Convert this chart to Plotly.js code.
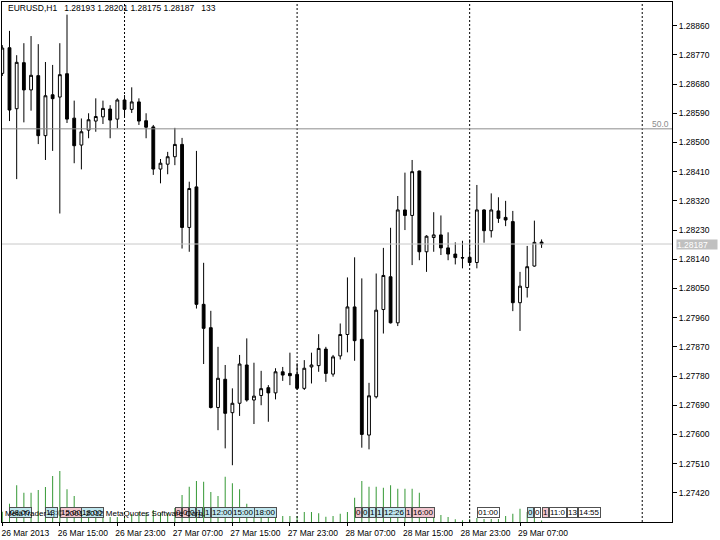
<!DOCTYPE html>
<html><head><meta charset="utf-8">
<script src="https://cdn.plot.ly/plotly-3.0.1.min.js"></script>
<style>html,body{margin:0;padding:0;background:#fff}#chart{width:720px;height:540px}</style>
</head><body><div id="chart"></div>
<script>
const FONT = 'Liberation Sans, Arial, sans-serif';
const headerText = 'EURUSD,H1\u00a0\u00a0\u00a01.28193 1.28201 1.28175 1.28187\u00a0\u00a0\u00a0133';
const copyrightText = 'MetaTrader 4, \u00a9 2001-2012 MetaQuotes Software Corp.';
const firstBar = Date.UTC(2013, 2, 26, 7, 0, 0);

const openP = [1.28713,1.28792,1.28604,1.28746,1.28662,1.28706,1.28521,1.28647,1.28640,1.28712,
1.28575,1.28492,1.28538,1.28566,1.28579,1.28603,1.28572,1.28631,1.28602,1.28625,
1.28567,1.28548,1.28418,1.28433,1.28456,1.28494,1.28238,1.28363,1.28001,1.27929,
1.27683,1.27770,1.27667,1.27696,1.27814,1.27706,1.27720,1.27744,1.27728,1.27793,
1.27788,1.27785,1.27742,1.27808,1.27812,1.27863,1.27786,1.27842,1.27908,1.27993,
1.27893,1.27598,1.27716,1.27985,1.28086,1.27944,1.28292,1.28275,1.28412,1.28163,
1.28207,1.28215,1.28175,1.28156,1.28145,1.28146,1.28130,1.28292,1.28228,1.28289,
1.28269,1.28256,1.28006,1.28053,1.28119,1.28193];
const highP = [1.28800,1.28844,1.28769,1.28806,1.28828,1.28803,1.28748,1.28739,1.28806,1.28894,
1.28629,1.28574,1.28590,1.28636,1.28629,1.28615,1.28636,1.28646,1.28670,1.28636,
1.28590,1.28554,1.28449,1.28471,1.28545,1.28514,1.28379,1.28474,1.28129,1.27981,
1.27870,1.27814,1.27742,1.27845,1.27896,1.27821,1.27796,1.27752,1.27804,1.27808,
1.27852,1.27819,1.27829,1.27852,1.27909,1.27870,1.27845,1.27942,1.28084,1.28146,
1.28081,1.27759,1.28096,1.28175,1.28237,1.28335,1.28407,1.28446,1.28413,1.28214,
1.28285,1.28275,1.28223,1.28192,1.28197,1.28201,1.28369,1.28294,1.28343,1.28331,
1.28320,1.28289,1.28101,1.28181,1.28259,1.28201];
const lowP = [1.28705,1.28566,1.28387,1.28562,1.28598,1.28495,1.28446,1.28474,1.28281,1.28560,
1.28436,1.28417,1.28513,1.28533,1.28557,1.28513,1.28544,1.28579,1.28591,1.28554,
1.28513,1.28400,1.28374,1.28402,1.28430,1.28173,1.28163,1.27988,1.27817,1.27680,
1.27613,1.27557,1.27505,1.27657,1.27701,1.27632,1.27690,1.27639,1.27708,1.27765,
1.27752,1.27737,1.27737,1.27757,1.27793,1.27762,1.27778,1.27831,1.27853,1.27827,
1.27559,1.27554,1.27711,1.27911,1.27942,1.27934,1.28230,1.28122,1.28137,1.28101,
1.28163,1.28153,1.28137,1.28124,1.28112,1.28122,1.28112,1.28191,1.28207,1.28252,
1.28242,1.27980,1.27919,1.28022,1.28117,1.28175];
const closeP = [1.28791,1.28600,1.28747,1.28662,1.28707,1.28521,1.28644,1.28635,1.28709,1.28572,
1.28490,1.28533,1.28570,1.28580,1.28605,1.28569,1.28631,1.28602,1.28625,1.28566,
1.28547,1.28418,1.28436,1.28456,1.28494,1.28238,1.28358,1.28001,1.27927,1.27683,
1.27773,1.27665,1.27696,1.27817,1.27706,1.27718,1.27741,1.27728,1.27793,1.27783,
1.27781,1.27742,1.27804,1.27814,1.27865,1.27788,1.27839,1.27908,1.27993,1.27889,
1.27600,1.27719,1.27983,1.28090,1.27944,1.28292,1.28275,1.28410,1.28163,1.28211,
1.28215,1.28175,1.28156,1.28145,1.28144,1.28130,1.28292,1.28228,1.28292,1.28266,
1.28261,1.28006,1.28057,1.28117,1.28192,1.28187];
const volume = [900,1610,3230,2580,2580,2820,3080,4050,4490,2880,
2290,1300,1050,880,620,440,440,530,700,880,
790,1050,790,790,1230,2380,3110,3610,3550,2640,
2290,3990,3410,2880,1610,1230,1060,880,700,530,
530,530,880,880,770,470,530,730,880,2140,
3610,3110,3110,3020,3230,2930,2930,2930,2580,1230,
790,620,440,240,150,260,350,260,260,260,
530,730,1170,880,700,133];

const yTicks = [1.27420,1.27510,1.27600,1.27690,1.27780,1.27870,1.27960,1.28050,1.28140,
1.28230,1.28320,1.28410,1.28500,1.28590,1.28680,1.28770,1.28860];
const xTickTimes = ['2013-03-26 07:00','2013-03-26 15:00','2013-03-26 23:00','2013-03-27 07:00',
'2013-03-27 15:00','2013-03-27 23:00','2013-03-28 07:00','2013-03-28 15:00','2013-03-28 23:00','2013-03-29 07:00'];
const xTickLabels = ['26 Mar 2013','26 Mar 15:00','26 Mar 23:00','27 Mar 07:00','27 Mar 15:00',
'27 Mar 23:00','28 Mar 07:00','28 Mar 15:00','28 Mar 23:00','29 Mar 07:00'];
const separators = ['2013-03-27 00:00','2013-03-28 00:00','2013-03-29 00:00','2013-03-30 00:00'];
const levelValue = 1.28542, levelLabel = '50.0';
const bidPrice = 1.28187;

const eventTimes = ['2013-03-26 08:00','2013-03-26 13:00','2013-03-26 15:00','2013-03-26 18:00',
'2013-03-27 07:00','2013-03-27 08:00','2013-03-27 09:00','2013-03-27 10:00','2013-03-27 11:00',
'2013-03-27 12:00','2013-03-27 15:00','2013-03-27 18:00',
'2013-03-28 08:00','2013-03-28 09:00','2013-03-28 10:00','2013-03-28 11:00','2013-03-28 12:00',
'2013-03-28 15:00','2013-03-28 16:00',
'2013-03-29 01:00','2013-03-29 08:00','2013-03-29 09:00','2013-03-29 10:00','2013-03-29 11:00',
'2013-03-29 13:35','2013-03-29 15:00'];
const eventTexts = ['08:00','13:','15:00','18:00','0','0','0','1','1','12:00','15:00','18:00',
'0','0','1','1','12:26','1','16:00','01:00','0','0','1','11:0','13','14:55'];
const eventKinds = ['c','c','p','c','p','p','c','c','c','c','c','c',
'p','c','c','c','c','p','p','w','c','w','p','w','w','w'];
const kindColor = {c:'#bfe6ee', p:'#f2c6ce', w:'#ffffff'};

function pad(n){return (n<10?'0':'')+n;}
const times = openP.map((_, i) => {
  const d = new Date(firstBar + i*3600000);
  return d.getUTCFullYear()+'-'+pad(d.getUTCMonth()+1)+'-'+pad(d.getUTCDate())+' '+pad(d.getUTCHours())+':00';
});

const traces = [
  {type:'bar', x:times, y:volume, yaxis:'y2', width:520000,
   marker:{color:'#3c9c3c', line:{width:0}}, hoverinfo:'skip', showlegend:false},
  {type:'candlestick', x:times, open:openP, high:highP, low:lowP, close:closeP,
   increasing:{line:{color:'#000000', width:1}, fillcolor:'#ffffff'},
   decreasing:{line:{color:'#000000', width:1}, fillcolor:'#000000'},
   whiskerwidth:0, hoverinfo:'skip', showlegend:false}
];

const shapes = separators.map(s => ({type:'line', xref:'x', yref:'paper', x0:s, x1:s, y0:0, y1:1,
  line:{color:'#000000', width:1, dash:'2px,2px'}}));
shapes.push({type:'line', xref:'paper', yref:'y', x0:0, x1:1, y0:levelValue, y1:levelValue,
  line:{color:'#8c8c8c', width:1}});
shapes.push({type:'line', xref:'paper', yref:'y', x0:0, x1:1, y0:bidPrice, y1:bidPrice,
  line:{color:'#c8c8c8', width:1}});

const annotations = [];
eventTimes.forEach((t, i) => {
  annotations.push({xref:'x', yref:'paper', x:t, y:0.0183, xanchor:'left', yanchor:'middle',
    text:eventTexts[i], showarrow:false, bgcolor:kindColor[eventKinds[i]], bordercolor:'#505050',
    borderwidth:1, borderpad:0, font:{family:FONT, size:8, color:'#000'}});
});
annotations.push({xref:'paper', yref:'paper', x:0.002, y:0.0154, xanchor:'left', yanchor:'middle',
  text:copyrightText, showarrow:false, font:{family:FONT, size:8, color:'#000'}});
annotations.push({xref:'paper', yref:'paper', x:0.006, y:0.9879, xanchor:'left', yanchor:'middle',
  text:headerText, showarrow:false, font:{family:FONT, size:8.5, color:'#000'}});
annotations.push({xref:'paper', yref:'y', x:0.997, y:levelValue, xanchor:'right', yanchor:'bottom',
  yshift:-1, text:levelLabel, showarrow:false, borderpad:0, font:{family:FONT, size:8.5, color:'#8c8c8c'}});
annotations.push({xref:'paper', yref:'y', x:1.006, y:bidPrice, xanchor:'left', yanchor:'middle',
  text:bidPrice.toFixed(5), showarrow:false, bgcolor:'#c0c0c0', borderpad:0, width:40, height:9, align:'left',
  font:{family:FONT, size:8.5, color:'#ffffff'}});

const layout = {
  width:720, height:540,
  margin:{l:2, r:48, t:2, b:18, pad:0},
  paper_bgcolor:'#ffffff', plot_bgcolor:'#ffffff',
  showlegend:false, boxgap:0.44,
  font:{family:FONT, size:8.5, color:'#000'},
  xaxis:{type:'date', range:['2013-03-26 06:57:30','2013-03-30 04:08:24'],
    rangeslider:{visible:false}, tickmode:'array', tickvals:xTickTimes, ticktext:xTickLabels,
    tickangle:0, automargin:false,
    ticks:'outside', ticklen:3, tickcolor:'#000', ticklabelshift:23,
    showline:true, mirror:true, linecolor:'#000', linewidth:1, showgrid:false, zeroline:false,
    tickfont:{family:FONT, size:8.5, color:'#000'}, fixedrange:true},
  yaxis:{side:'right', range:[1.27330, 1.28933], tickmode:'array', tickvals:yTicks, tickformat:'.5f',
    automargin:false,
    ticks:'outside', ticklen:4, tickcolor:'#000', showline:true, mirror:true, linecolor:'#000', linewidth:1,
    showgrid:false, zeroline:false, tickfont:{family:FONT, size:8.5, color:'#000'}, fixedrange:true},
  yaxis2:{overlaying:'y', range:[0, 45780], visible:false, showgrid:false, zeroline:false, fixedrange:true},
  shapes:shapes, annotations:annotations
};

Plotly.newPlot('chart', traces, layout, {staticPlot:true, displayModeBar:false});
</script></body></html>
